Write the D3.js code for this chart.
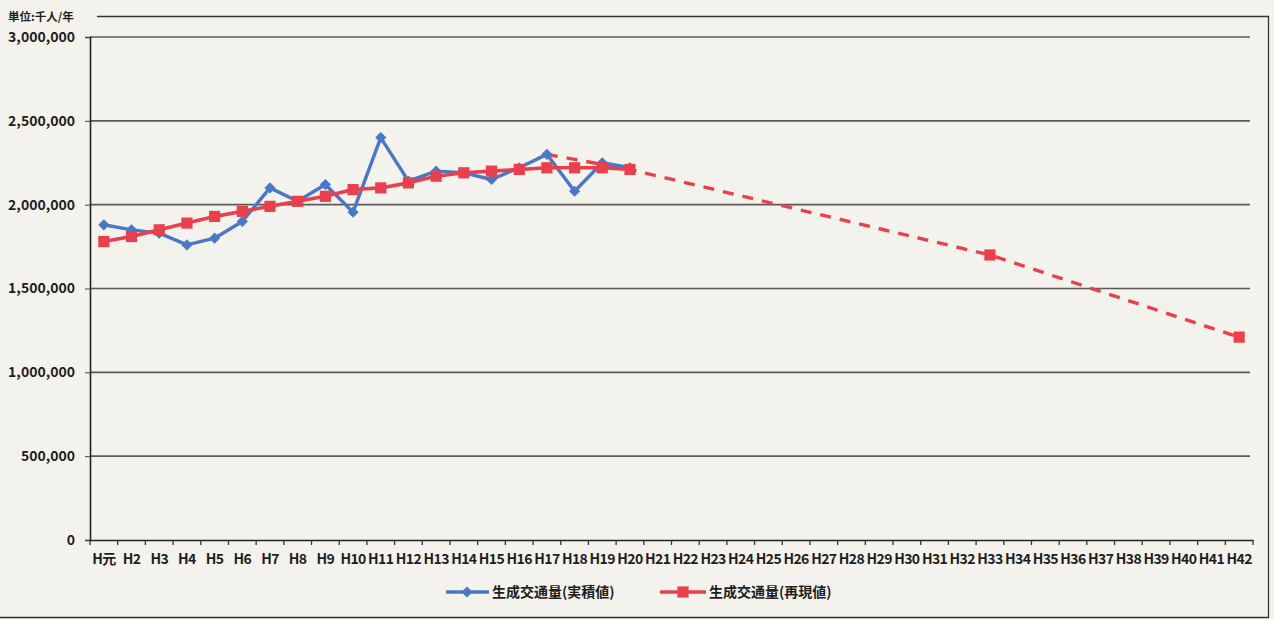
<!DOCTYPE html>
<html><head><meta charset="utf-8">
<script src="https://cdn.jsdelivr.net/npm/d3@7"></script>
<style>
html,body{margin:0;padding:0;background:#f4f2ed;}
svg{display:block;}
text{font-family:"Noto Sans CJK JP","Noto Sans",sans-serif;fill:#1e1e1e;}
</style></head>
<body>
<svg id="chart" width="1274" height="619"></svg>
<script>
const categories = ["H元","H2","H3","H4","H5","H6","H7","H8","H9","H10","H11","H12","H13","H14","H15","H16","H17","H18","H19","H20","H21","H22","H23","H24","H25","H26","H27","H28","H29","H30","H31","H32","H33","H34","H35","H36","H37","H38","H39","H40","H41","H42"];
const actual = [1880000,1850000,1830000,1760000,1800000,1900000,2100000,2020000,2120000,1955000,2400000,2140000,2200000,2190000,2150000,2220000,2300000,2080000,2250000,2220000];
const reproduced = [1780000,1810000,1850000,1890000,1930000,1960000,1990000,2020000,2050000,2090000,2100000,2130000,2170000,2190000,2200000,2210000,2220000,2220000,2220000,2210000];
// forecast (dashed), null = no value
const forecast = [null,null,null,null,null,null,null,null,null,null,null,null,null,null,null,null,2300000,null,null,2210000,null,null,null,null,null,null,null,null,null,null,null,null,1700000,null,null,null,null,null,null,null,null,1210000];
const yTicks = [0,500000,1000000,1500000,2000000,2500000,3000000];
const seriesNames = ["生成交通量(実積値)","生成交通量(再現値)"];
const unitLabel = "単位:千人/年";

const svg = d3.select("#chart");
const blue = "#4a78c6", red = "#e8404c";
const x = d3.scaleBand().domain(categories).range([90, 1253]);
const y = d3.scaleLinear().domain([0, 3000000]).range([540, 37]);
const cx = c => x(c) + x.bandwidth()/2;

// frame
svg.append("path").attr("d","M97,16.5H1268.5V617.5H0").attr("fill","none").attr("stroke","#333").attr("stroke-width",1.3);

svg.append("text").attr("x",8).attr("y",21).attr("font-size",11.5).attr("font-weight","bold").text(unitLabel);

// gridlines
svg.append("g").selectAll("line").data(yTicks.filter(d=>d>0)).join("line")
  .attr("x1",90).attr("x2",1250).attr("y1",d=>y(d)).attr("y2",d=>y(d))
  .attr("stroke","#5a5a5a").attr("stroke-width",1.6);

// y axis
const yAxis = svg.append("g").attr("transform","translate(90,0)")
  .call(d3.axisLeft(y).tickValues(yTicks).tickSize(5).tickPadding(10).tickFormat(d3.format(",")));
yAxis.select(".domain").attr("stroke","#222").attr("stroke-width",1.6);
yAxis.selectAll(".tick line").attr("stroke","#444");
yAxis.selectAll("text").attr("font-size",14).attr("font-weight","bold").attr("font-family","'Noto Sans',sans-serif").attr("fill","#1e1e1e");

// x axis
const xAxis = svg.append("g").attr("transform","translate(0,540)")
  .call(d3.axisBottom(x).tickSize(0).tickPadding(14));
xAxis.select(".domain").attr("stroke","#222").attr("stroke-width",1.6);
xAxis.selectAll("text").attr("font-size",14).attr("font-weight","bold").attr("font-family","'Noto Sans CJK JP','Noto Sans',sans-serif").attr("fill","#1e1e1e").attr("letter-spacing","-0.6");
// ticks at category boundaries
svg.append("g").selectAll("line").data(categories.concat(["end"])).join("line")
  .attr("x1",(d,i)=> i<categories.length ? x(d) : x.range()[1])
  .attr("x2",(d,i)=> i<categories.length ? x(d) : x.range()[1])
  .attr("y1",540).attr("y2",545).attr("stroke","#333").attr("stroke-width",1.3);

// forecast dashed
const fc = forecast.map((v,i)=>({c:categories[i],v,i})).filter(d=>d.v!==null);
const line = d3.line().x(d=>cx(d.c)).y(d=>y(d.v));
svg.append("path").datum(fc).attr("d",line).attr("fill","none")
  .attr("stroke",red).attr("stroke-width",3.4).attr("stroke-dasharray","11,9");

// actual
const act = actual.map((v,i)=>({c:categories[i],v}));
svg.append("path").datum(act).attr("d",line).attr("fill","none").attr("stroke",blue).attr("stroke-width",3.4).attr("stroke-linejoin","round");
// reproduced
const rep = reproduced.map((v,i)=>({c:categories[i],v}));
svg.append("path").datum(rep).attr("d",line).attr("fill","none").attr("stroke",red).attr("stroke-width",3.6).attr("stroke-linejoin","round");

const diamond = d3.symbol().type(d3.symbolDiamond2).size(80);
const square = d3.symbol().type(d3.symbolSquare).size(125);
svg.append("g").selectAll("path").data(act).join("path").attr("d",diamond)
  .attr("transform",d=>`translate(${cx(d.c)},${y(d.v)})`).attr("fill",blue);
svg.append("g").selectAll("path").data(rep.concat(fc.filter(d=>d.i>=actual.length))).join("path").attr("d",square)
  .attr("transform",d=>`translate(${cx(d.c)},${y(d.v)})`).attr("fill",red);

// legend
const lg = svg.append("g").attr("transform","translate(0,592)");
lg.append("line").attr("x1",446).attr("x2",489).attr("y1",0).attr("y2",0).attr("stroke",blue).attr("stroke-width",3.4);
lg.append("path").attr("d",diamond).attr("transform","translate(467,0)").attr("fill",blue);
lg.append("text").attr("x",492).attr("y",5).attr("font-size",14).attr("font-weight","bold").text(seriesNames[0]);
lg.append("line").attr("x1",660).attr("x2",706).attr("y1",0).attr("y2",0).attr("stroke",red).attr("stroke-width",3.6);
lg.append("path").attr("d",square).attr("transform","translate(683,0)").attr("fill",red);
lg.append("text").attr("x",709).attr("y",5).attr("font-size",14).attr("font-weight","bold").text(seriesNames[1]);
</script>
</body></html>
